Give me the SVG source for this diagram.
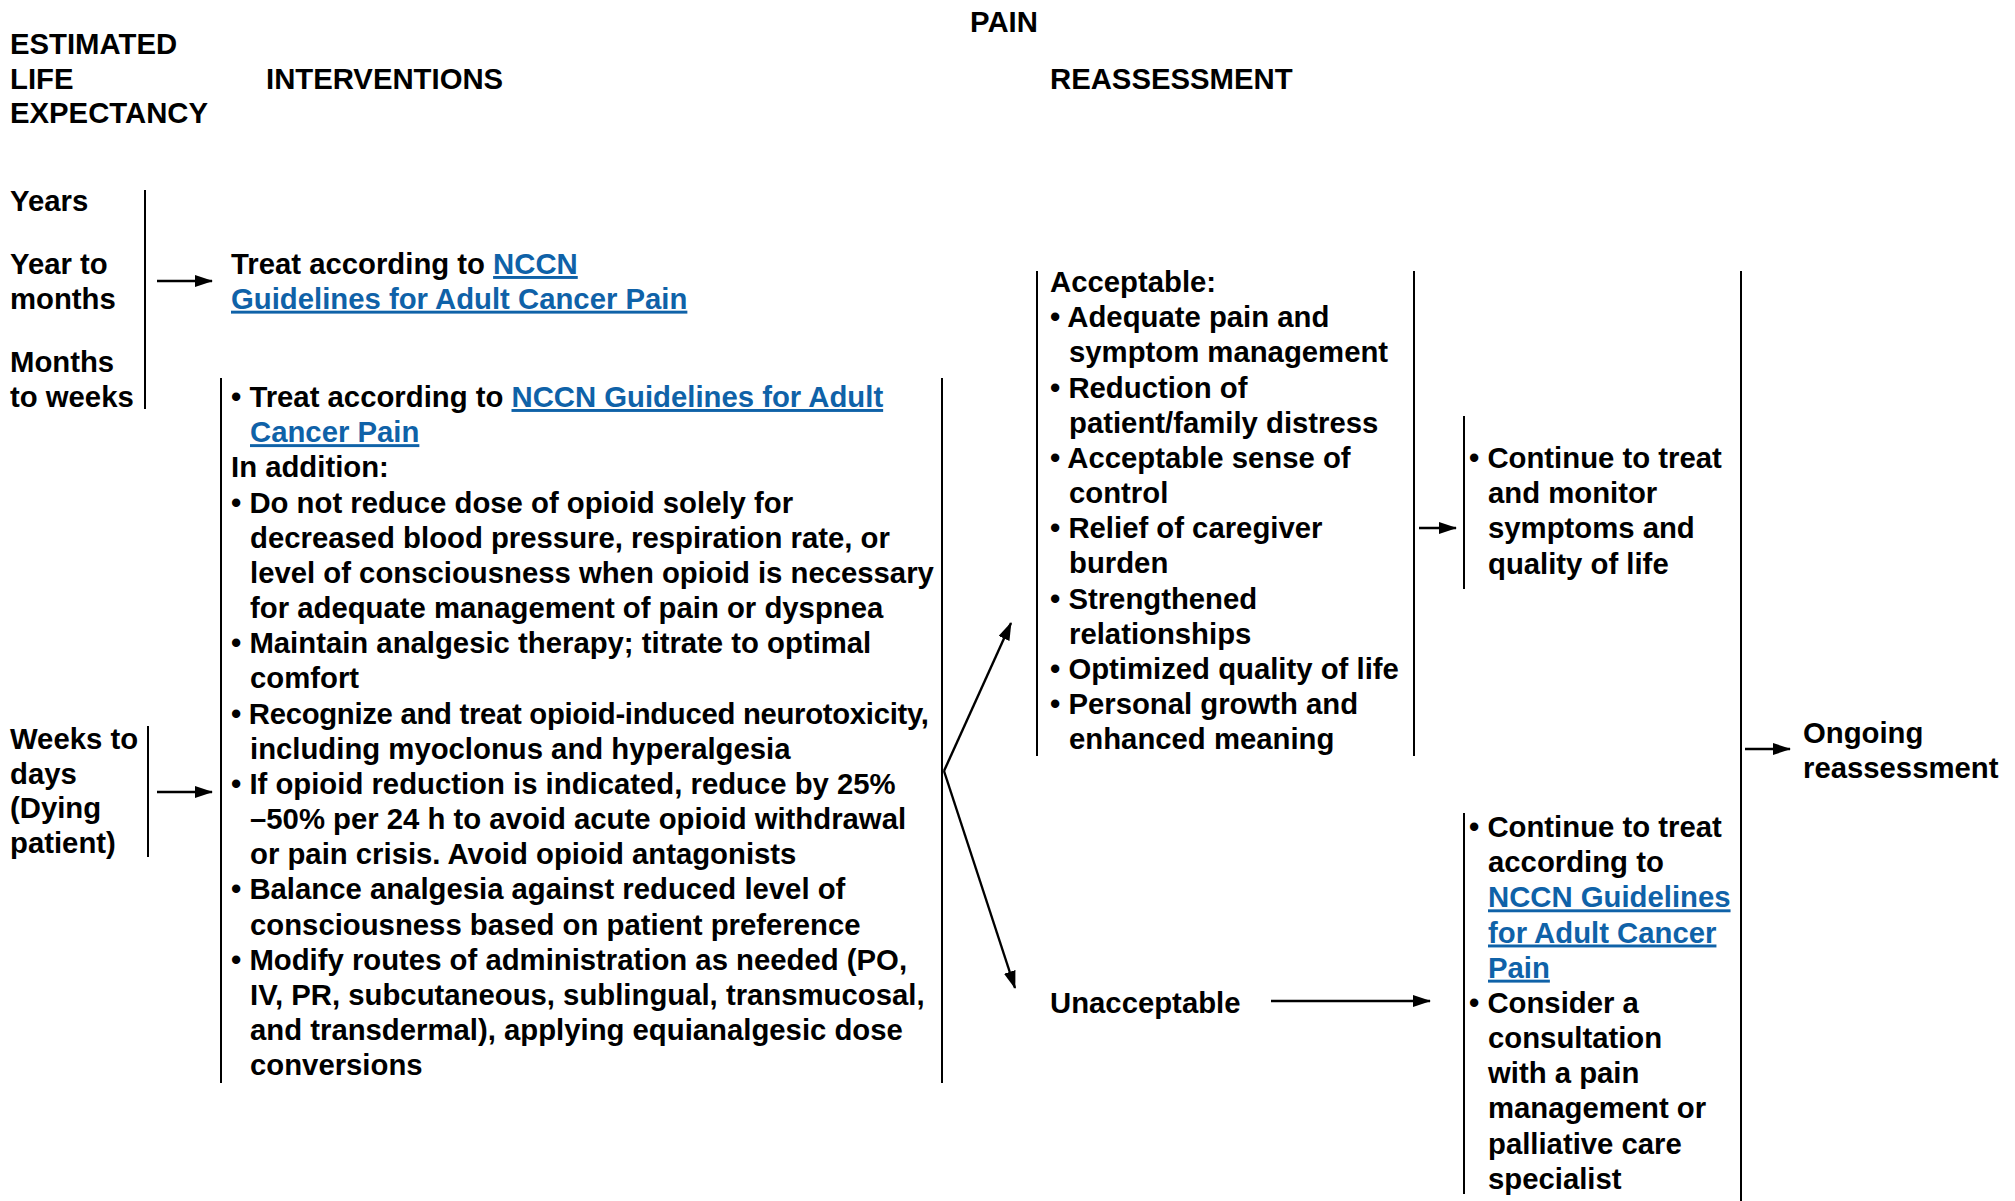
<svg xmlns="http://www.w3.org/2000/svg" width="2015" height="1201" viewBox="0 0 2015 1201">
<defs>
<style>
text{font-family:"Liberation Sans",Arial,sans-serif;font-weight:bold;font-size:29.3px;fill:#000}
.lk{fill:#0f62a8;text-decoration:underline}
.tight{letter-spacing:-0.3px}
.ln{stroke:#000;stroke-width:2;fill:none}
.ar{stroke:#000;stroke-width:2.4;fill:none;marker-end:url(#ah)}
</style>
<marker id="ah" viewBox="0 0 18 12" refX="17" refY="6" markerWidth="18" markerHeight="12" orient="auto" markerUnits="userSpaceOnUse">
<path d="M0,0 L18,6 L0,12 z" fill="#000"/>
</marker>
</defs>
<rect width="2015" height="1201" fill="#fff"/>

<g id="headers">
<text x="1004" y="32" text-anchor="middle">PAIN</text>
<text x="10" y="54"><tspan x="10">ESTIMATED</tspan><tspan x="10" dy="34.7">LIFE</tspan><tspan x="10" dy="34.7">EXPECTANCY</tspan></text>
<text x="266" y="89">INTERVENTIONS</text>
<text x="1050" y="89">REASSESSMENT</text>
</g>

<g id="life-expectancy">
<text x="10" y="211">Years</text>
<text x="10" y="274"><tspan x="10">Year to</tspan><tspan x="10" dy="34.7">months</tspan></text>
<text x="10" y="372"><tspan x="10">Months</tspan><tspan x="10" dy="34.7">to weeks</tspan></text>
<line class="ln" x1="145" y1="190" x2="145" y2="409"/>
</g>

<g id="dying">
<text x="10" y="749"><tspan x="10">Weeks to</tspan><tspan x="10" dy="34.7">days</tspan><tspan x="10" dy="34.7">(Dying</tspan><tspan x="10" dy="34.7">patient)</tspan></text>
<line class="ln" x1="148" y1="726" x2="148" y2="857"/>
</g>

<g id="treat-nccn">
<text x="231" y="274"><tspan x="231">Treat according to <tspan class="lk">NCCN</tspan></tspan><tspan x="231" dy="34.7" class="lk">Guidelines for Adult Cancer Pain</tspan></text>
</g>

<g id="interventions">
<line class="ln" x1="221" y1="378" x2="221" y2="1083"/>
<line class="ln" x1="942" y1="378" x2="942" y2="1083"/>
<text x="231" y="407">
<tspan x="231">• Treat according to <tspan class="lk">NCCN Guidelines for Adult</tspan></tspan>
<tspan x="250" dy="35.17" class="lk">Cancer Pain</tspan>
<tspan x="231" dy="35.17">In addition:</tspan>
<tspan x="231" dy="35.17">• Do not reduce dose of opioid solely for</tspan>
<tspan x="250" dy="35.17">decreased blood pressure, respiration rate, or</tspan>
<tspan x="250" dy="35.17">level of consciousness when opioid is necessary</tspan>
<tspan x="250" dy="35.17">for adequate management of pain or dyspnea</tspan>
<tspan x="231" dy="35.17">• Maintain analgesic therapy; titrate to optimal</tspan>
<tspan x="250" dy="35.17">comfort</tspan>
<tspan x="231" dy="35.17" class="tight">• Recognize and treat opioid-induced neurotoxicity,</tspan>
<tspan x="250" dy="35.17">including myoclonus and hyperalgesia</tspan>
<tspan x="231" dy="35.17">• If opioid reduction is indicated, reduce by 25%</tspan>
<tspan x="250" dy="35.17">–50% per 24 h to avoid acute opioid withdrawal</tspan>
<tspan x="250" dy="35.17">or pain crisis. Avoid opioid antagonists</tspan>
<tspan x="231" dy="35.17">• Balance analgesia against reduced level of</tspan>
<tspan x="250" dy="35.17">consciousness based on patient preference</tspan>
<tspan x="231" dy="35.17">• Modify routes of administration as needed (PO,</tspan>
<tspan x="250" dy="35.17">IV, PR, subcutaneous, sublingual, transmucosal,</tspan>
<tspan x="250" dy="35.17">and transdermal), applying equianalgesic dose</tspan>
<tspan x="250" dy="35.17">conversions</tspan>
</text>
</g>

<g id="acceptable">
<line class="ln" x1="1037" y1="271" x2="1037" y2="756"/>
<line class="ln" x1="1414" y1="271" x2="1414" y2="756"/>
<text x="1050" y="292">
<tspan x="1050">Acceptable:</tspan>
<tspan x="1050" dy="35.17">• Adequate pain and</tspan>
<tspan x="1069" dy="35.17">symptom management</tspan>
<tspan x="1050" dy="35.17">• Reduction of</tspan>
<tspan x="1069" dy="35.17">patient/family distress</tspan>
<tspan x="1050" dy="35.17">• Acceptable sense of</tspan>
<tspan x="1069" dy="35.17">control</tspan>
<tspan x="1050" dy="35.17">• Relief of caregiver</tspan>
<tspan x="1069" dy="35.17">burden</tspan>
<tspan x="1050" dy="35.17">• Strengthened</tspan>
<tspan x="1069" dy="35.17">relationships</tspan>
<tspan x="1050" dy="35.17">• Optimized quality of life</tspan>
<tspan x="1050" dy="35.17">• Personal growth and</tspan>
<tspan x="1069" dy="35.17">enhanced meaning</tspan>
</text>
</g>

<g id="continue-monitor">
<line class="ln" x1="1464" y1="416" x2="1464" y2="589"/>
<text x="1469" y="468">
<tspan x="1469">• Continue to treat</tspan>
<tspan x="1488" dy="35.17">and monitor</tspan>
<tspan x="1488" dy="35.17">symptoms and</tspan>
<tspan x="1488" dy="35.17">quality of life</tspan>
</text>
</g>

<g id="unacceptable">
<text x="1050" y="1013">Unacceptable</text>
</g>

<g id="continue-consult">
<line class="ln" x1="1464" y1="813" x2="1464" y2="1194"/>
<text x="1469" y="837">
<tspan x="1469">• Continue to treat</tspan>
<tspan x="1488" dy="35.17">according to</tspan>
<tspan x="1488" dy="35.17" class="lk">NCCN Guidelines</tspan>
<tspan x="1488" dy="35.17" class="lk">for Adult Cancer</tspan>
<tspan x="1488" dy="35.17" class="lk">Pain</tspan>
<tspan x="1469" dy="35.17">• Consider a</tspan>
<tspan x="1488" dy="35.17">consultation</tspan>
<tspan x="1488" dy="35.17">with a pain</tspan>
<tspan x="1488" dy="35.17">management or</tspan>
<tspan x="1488" dy="35.17">palliative care</tspan>
<tspan x="1488" dy="35.17">specialist</tspan>
</text>
</g>

<g id="ongoing">
<line class="ln" x1="1741" y1="271" x2="1741" y2="1201"/>
<text x="1803" y="743"><tspan x="1803">Ongoing</tspan><tspan x="1803" dy="34.7">reassessment</tspan></text>
</g>

<g id="connectors">
<line class="ar" x1="157" y1="281" x2="212" y2="281"/>
<line class="ar" x1="157" y1="792" x2="212" y2="792"/>
<line class="ar" x1="944" y1="771" x2="1011" y2="623"/>
<line class="ar" x1="944" y1="771" x2="1015" y2="988"/>
<line class="ar" x1="1419" y1="528" x2="1456" y2="528"/>
<line class="ar" x1="1271" y1="1001" x2="1430" y2="1001"/>
<line class="ar" x1="1745" y1="749" x2="1790" y2="749"/>
</g>
</svg>
